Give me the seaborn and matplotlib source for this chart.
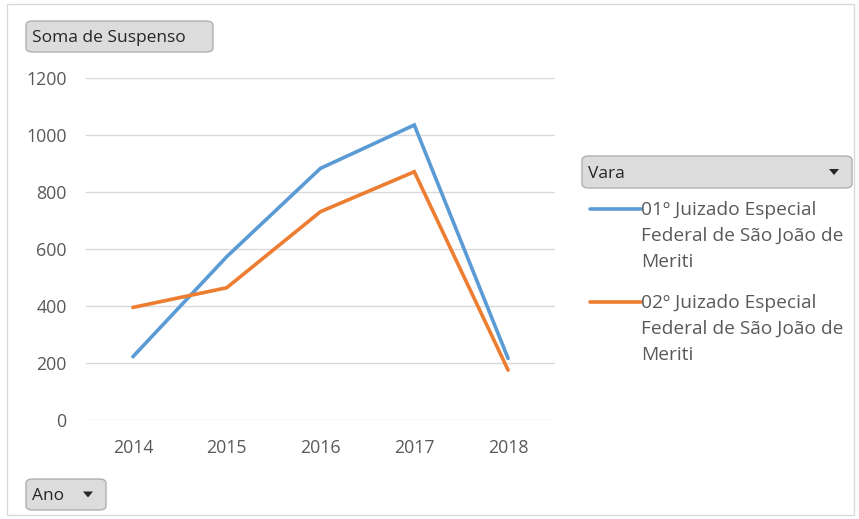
import matplotlib
matplotlib.use("Agg")
import matplotlib.pyplot as plt
import seaborn as sns
import pandas as pd
from matplotlib.patches import FancyBboxPatch, Rectangle, Polygon
from matplotlib.lines import Line2D

anos = ["2014", "2015", "2016", "2017", "2018"]
vara1 = [222, 573, 883, 1035, 216]
vara2 = [395, 464, 731, 871, 175]
series_names = ["01º Juizado Especial\nFederal de São João de\nMeriti",
                "02º Juizado Especial\nFederal de São João de\nMeriti"]
yticks = [0, 200, 400, 600, 800, 1000, 1200]
colors = ["#5B9BD5", "#ED7D31"]

sns.set_theme(style="white")
plt.rcParams['font.family'] = ['Open Sans', 'DejaVu Sans']

df = pd.DataFrame({
    "Ano": anos * 2,
    "Valor": vara1 + vara2,
    "Vara": [series_names[0]] * len(anos) + [series_names[1]] * len(anos),
})

W, H = 859, 519
fig = plt.figure(figsize=(W / 100, H / 100), dpi=100)
ax = fig.add_axes([86 / W, 1 - 420 / H, (555 - 86) / W, (420 - 78) / H])

sns.lineplot(data=df, x="Ano", y="Valor", hue="Vara", palette=colors,
             linewidth=2.6, ax=ax, legend=False, sort=False)
for ln in ax.lines:
    ln.set_clip_on(False)
    ln.set_solid_joinstyle("miter")

ax.set_xlim(-0.5, len(anos) - 0.5)
ax.set_ylim(0, 1200)
ax.set_yticks(yticks)
ax.set_yticklabels([str(v) for v in yticks])
ax.grid(axis="y", color="#D9D9D9", linewidth=1)
ax.set_axisbelow(True)
for s in ax.spines.values():
    s.set_visible(False)
ax.tick_params(axis="both", length=0, labelsize=12.8, colors="#595959")
ax.tick_params(axis="y", pad=14)
ax.tick_params(axis="x", pad=14)
ax.set_xlabel("")
ax.set_ylabel("")

# outer border
fig.patches.append(Rectangle((7 / W, 4 / H), (854 - 7) / W, (515 - 4) / H,
                             transform=fig.transFigure, fill=False,
                             edgecolor="#D9D9D9", linewidth=1))


def button(x0, y0, x1, y1, text, arrow=False):
    p = FancyBboxPatch((x0 / W, 1 - y1 / H), (x1 - x0) / W, (y1 - y0) / H,
                       boxstyle="round,pad=0,rounding_size=0.008",
                       transform=fig.transFigure, facecolor="#DCDCDC",
                       edgecolor="#B0B0B0", linewidth=1)
    fig.patches.append(p)
    fig.text((x0 + 6) / W, 1 - ((y0 + y1) / 2 + 2) / H, text, ha="left", va="center",
             fontsize=12.5, color="#262626")
    if arrow:
        cx, cy = x1 - 18, (y0 + y1) / 2
        tri = Polygon([((cx - 5) / W, 1 - (cy - 3) / H), ((cx + 5) / W, 1 - (cy - 3) / H),
                       (cx / W, 1 - (cy + 3) / H)], closed=True,
                      transform=fig.transFigure, facecolor="#262626", edgecolor="none")
        fig.patches.append(tri)


button(26, 21, 213, 52, "Soma de Suspenso")
button(582, 156, 852, 188, "Vara", arrow=True)
button(26, 479, 106, 510, "Ano", arrow=True)

# legend
for i, (name, col) in enumerate(zip(series_names, colors)):
    y0 = 209 + i * 93
    fig.lines.append(Line2D([590 / W, 641 / W], [1 - y0 / H, 1 - y0 / H],
                            transform=fig.transFigure, color=col, linewidth=2.6))
    for j, line in enumerate(name.split("\n")):
        fig.text(641 / W, 1 - (y0 + 1 + j * 26) / H, line, ha="left", va="center",
                 fontsize=13.8, color="#595959")

fig.savefig("out.png", dpi=100, facecolor="white")
